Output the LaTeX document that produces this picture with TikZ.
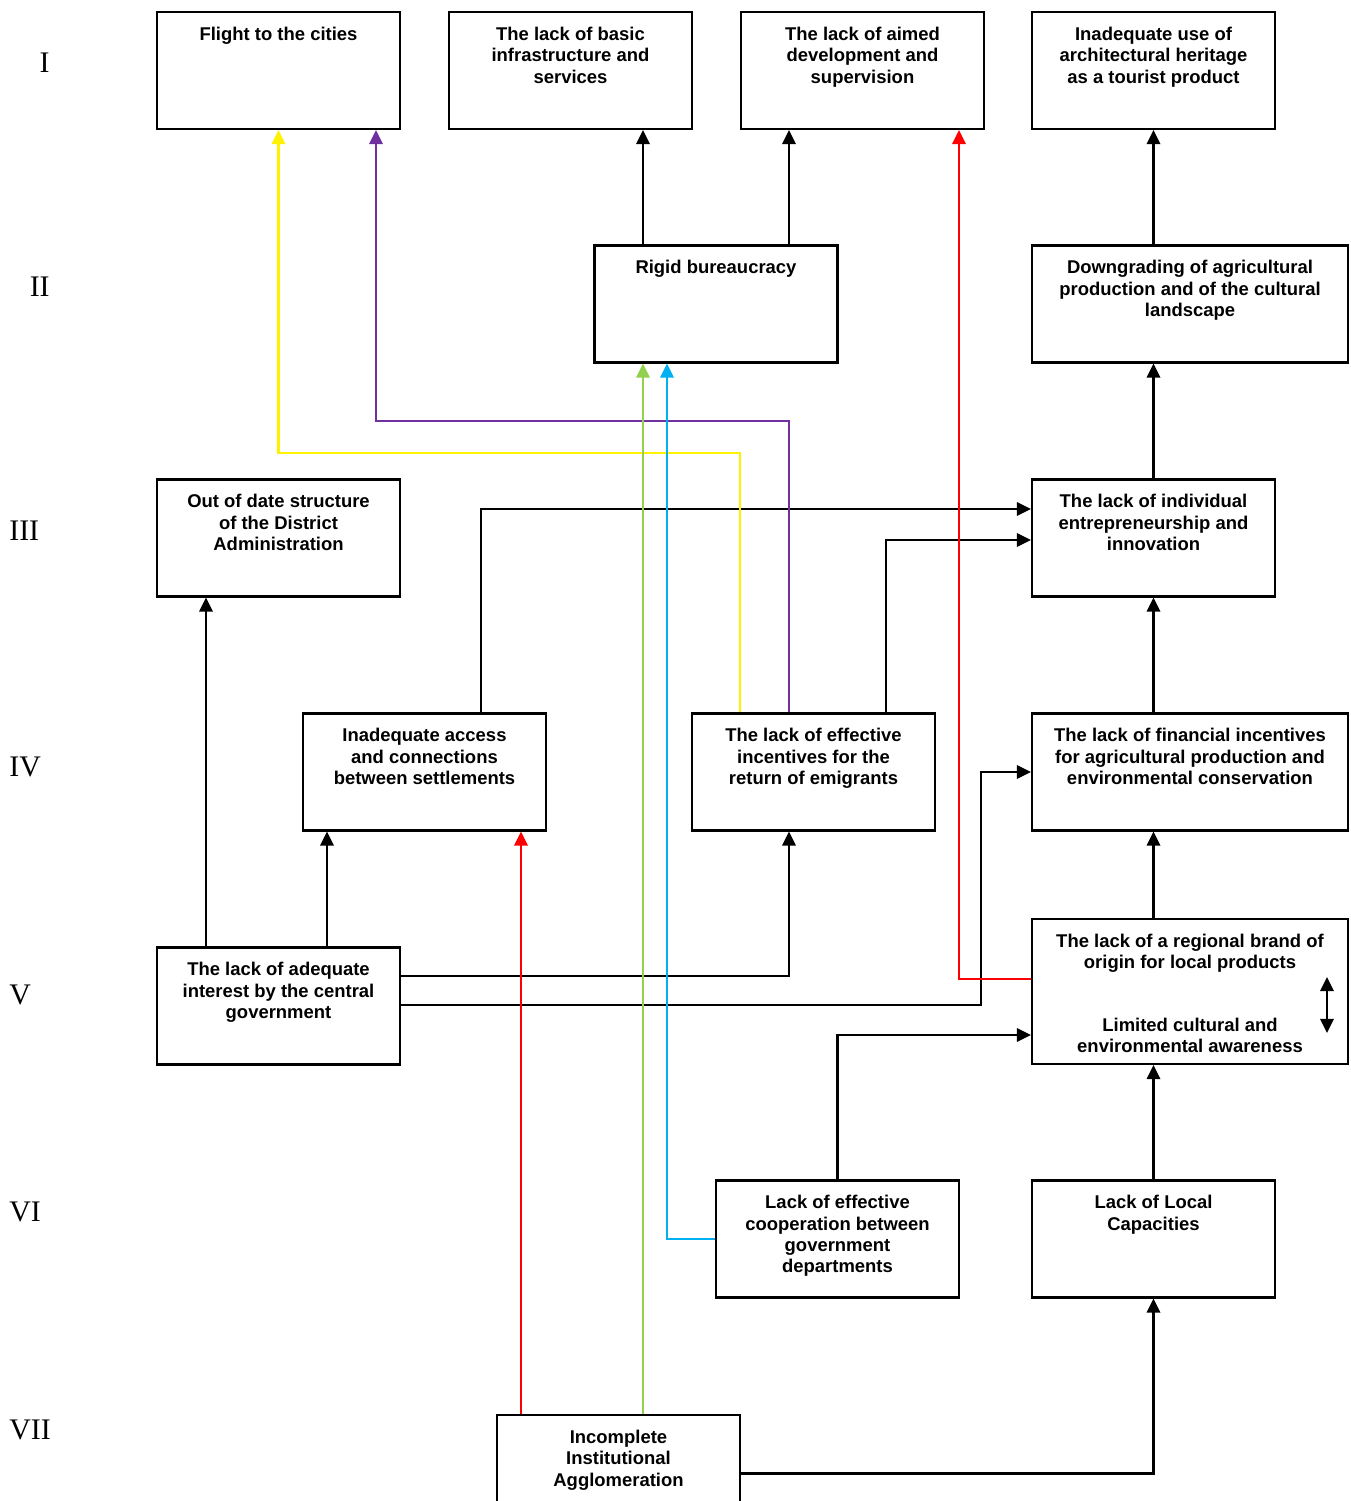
\documentclass[tikz,border=0pt]{standalone}
\usepackage{fontspec}
\setmainfont{Liberation Serif}
\newfontfamily\boxfont{Liberation Sans}
\usetikzlibrary{positioning, arrows.meta}

\begin{document}
\begin{tikzpicture}[
    x=0.02cm, y=-0.02cm,
    cell/.style={rectangle, draw, line width=1.2pt,
                 minimum width=4.86cm, minimum height=2.34cm, inner sep=0pt},
    wide/.style={cell, minimum width=6.32cm},
    celltext/.style={inner sep=0pt, align=center,
                font=\boxfont\bfseries\fontsize{10.5}{12.2}\selectfont},
    txt/.style={celltext, anchor=north, yshift=-0.31cm},
    btxt/.style={celltext, anchor=south, yshift=0.24cm},
    level/.style={font=\fontsize{17}{20}\selectfont, inner sep=0pt},
    arrow/.style={-{Triangle[width=7.6pt, length=8pt]}, line width=1.3pt},
    dblarrow/.style={{Triangle[width=7.6pt, length=8pt]}-{Triangle[width=7.6pt, length=8pt]}, line width=1.3pt}
]
  \useasboundingbox (0,0) rectangle (1350,1501);

  % level numbers
  \node[level, anchor=east] (l1) at (50,63) {I};
  \node[level, anchor=east] (l2) at (50,287) {II};
  \node[level, anchor=west] (l3) at (9,531) {III};
  \node[level, anchor=west] (l4) at (9,767) {IV};
  \node[level, anchor=west] (l5) at (9,995) {V};
  \node[level, anchor=west] (l6) at (9,1212) {VI};
  \node[level, anchor=west] (l7) at (9,1430) {VII};

  % level I
  \node[cell, label={[txt]north:Flight to the cities}] (a1) at (278.5,70.5) {};
  \node[cell, label={[txt]north:The lack of basic\\infrastructure and\\services}] (a2) at (570.5,70.5) {};
  \node[cell, label={[txt]north:The lack of aimed\\development and\\supervision}] (a3) at (862.5,70.5) {};
  \node[cell, label={[txt]north:Inadequate use of\\architectural heritage\\as a tourist product}] (a4) at (1153.5,70.5) {};
  % level II
  \node[cell, label={[txt]north:Rigid bureaucracy}] (b1) at (716,304) {};
  \node[wide, label={[txt]north:Downgrading of agricultural\\production and of the cultural\\landscape}] (b2) at (1190,304) {};
  % level III
  \node[cell, label={[txt]north:Out of date structure\\of the District\\Administration}] (c1) at (278.5,538) {};
  \node[cell, label={[txt]north:The lack of individual\\entrepreneurship and\\innovation}] (c2) at (1153.5,538) {};
  % level IV
  \node[cell, label={[txt]north:Inadequate access\\and connections\\between settlements}] (d1) at (424.5,772) {};
  \node[cell, label={[txt]north:The lack of effective\\incentives for the\\return of emigrants}] (d2) at (813.5,772) {};
  \node[wide, label={[txt]north:The lack of financial incentives\\for agricultural production and\\environmental conservation}] (d3) at (1190,772) {};
  % level V
  \node[cell, label={[txt]north:The lack of adequate\\interest by the central\\government}] (e1) at (278.5,1006) {};
  \node[wide, minimum height=2.9cm,
        label={[txt]north:The lack of a regional brand of\\origin for local products},
        label={[btxt]south:Limited cultural and\\environmental awareness}] (e2) at (1190,991.5) {};
  % level VI
  \node[cell, label={[txt]north:Lack of effective\\cooperation between\\government\\departments}] (f1) at (837.5,1239) {};
  \node[cell, label={[txt]north:Lack of Local\\Capacities}] (f2) at (1153.5,1239) {};
  % level VII
  \node[cell, label={[txt]north:Incomplete\\Institutional\\Agglomeration}] (g) at (618.5,1473.5) {};

  \coordinate (swtop) at (1327,977);
  \coordinate (swbot) at (1327,1033);

  % black links
  \draw[arrow] (643,0 |- b1.north) -- (643,0 |- a2.south);
  \draw[arrow] (789,0 |- b1.north) -- (789,0 |- a3.south);
  \draw[arrow] (a4.south |- b2.north) -- (a4.south);
  \draw[arrow] (c2.north) -- (c2.north |- b2.south);
  \draw[arrow] (c2.south |- d3.north) -- (c2.south);
  \draw[arrow] (f2.north |- e2.north) -- (f2.north |- d3.south);
  \draw[arrow] (f2.north) -- (f2.north |- e2.south);
  \draw[arrow] (g.east) -| (f2.south);
  \draw[arrow] (206,0 |- e1.north) -- (206,0 |- c1.south);
  \draw[arrow] (327,0 |- e1.north) -- (327,0 |- d1.south);
  \draw[arrow] (e1.east |- 0,976) -| (789,0 |- d2.south);
  \draw[arrow] (e1.east |- 0,1005) -| (981,0 |- d3.west) -- (d3.west);
  \draw[arrow] (481,0 |- d1.north) |- (c2.west |- 0,509);
  \draw[arrow] (886,0 |- d2.north) |- (c2.west |- 0,540);
  \draw[arrow] (f1.north) |- (e2.west |- 0,1035);
  \draw[dblarrow] (swtop) -- (swbot);

  % coloured links
  \draw[arrow, yellow] (740,0 |- d2.north) |- (a1.south |- 0,453) -- (a1.south);
  \draw[arrow, color={rgb,255:red,112;green,48;blue,160}] (789,0 |- d2.north) |- (376,421) -- (376,0 |- a1.south);
  \draw[arrow, red] (e2.west |- 0,979) -| (959,0 |- a3.south);
  \draw[arrow, red] (521,0 |- g.north) -- (521,0 |- d1.south);
  \draw[arrow, color={rgb,255:red,146;green,208;blue,80}] (643,0 |- g.north) -- (643,0 |- b1.south);
  \draw[arrow, color={rgb,255:red,0;green,176;blue,240}] (f1.west) -| (667,0 |- b1.south);
\end{tikzpicture}
\end{document}
